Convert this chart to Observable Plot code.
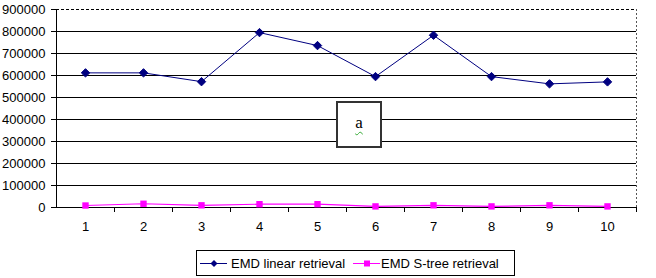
<!DOCTYPE html>
<html><head><meta charset="utf-8">
<script src="https://cdn.jsdelivr.net/npm/d3@7"></script>
<script src="https://cdn.jsdelivr.net/npm/@observablehq/plot@0.6"></script>
<style>
body{margin:0;background:#fff;font-family:"Liberation Sans",Arial,sans-serif;}
#wrap{position:relative;width:656px;height:278px;}
#legend{position:absolute;left:196px;top:250px;width:319px;height:26px;border:1px solid #000;box-sizing:border-box;}
#legend svg{position:absolute;left:0;top:0;}
#tbox{position:absolute;left:336px;top:101px;width:46px;height:47px;border:2px solid #333;box-sizing:border-box;background:#fff;
 font-family:"Liberation Serif","Times New Roman",serif;font-size:17px;text-align:center;line-height:40px;}
#tbox span{text-decoration:underline wavy #3a3;text-underline-offset:3px;text-decoration-thickness:1px;}
</style></head>
<body><div id="wrap"></div>
<script>
const categories = [1,2,3,4,5,6,7,8,9,10];
const linearRetrieval = [612000,612000,572000,795000,736000,595000,783000,595000,562000,571000];
const streeRetrieval = [9000,17000,10000,15000,15000,5000,10000,5000,10000,5000];
const seriesNames = ["EMD linear retrieval","EMD S-tree retrieval"];
const yTicks = [0,100000,200000,300000,400000,500000,600000,700000,800000,900000];

const linData = categories.map((c,i)=>({x:c,y:linearRetrieval[i]}));
const stData = categories.map((c,i)=>({x:c,y:streeRetrieval[i]}));

const plot = Plot.plot({
  width:656, height:278,
  marginLeft:56, marginRight:20, marginTop:9, marginBottom:71,
  style:{fontFamily:'"Liberation Sans",Arial,sans-serif',fontSize:"13px",color:"#000",background:"transparent"},
  x:{type:"linear",domain:[0.5,10.5]},
  y:{domain:[0,900000]},
  marks:[
    Plot.ruleY(yTicks.slice(1,-1),{stroke:"#000",strokeWidth:1}),
    Plot.ruleY([900000],{stroke:"#000",strokeDasharray:"3,2",strokeWidth:1}),
    Plot.ruleX([10.5],{stroke:"#555",strokeDasharray:"2,2",strokeWidth:1}),
    Plot.ruleX([0.5],{stroke:"#000",strokeWidth:1}),
    Plot.ruleY([0],{stroke:"#000",strokeWidth:1}),
    Plot.axisY({ticks:yTicks,tickSize:5,tickPadding:6,tickFormat:d=>String(d),label:null,stroke:"#000",fill:"#000",strokeOpacity:1}),
    Plot.axisX({ticks:categories,tickSize:0,tickPadding:14,tickFormat:d=>String(d),label:null,fill:"#000"}),
    Plot.axisX({ticks:categories.map(c=>c+0.5),tickSize:5,tickFormat:()=>"",label:null,stroke:"#000",strokeOpacity:1}),
    Plot.line(linData,{x:"x",y:"y",stroke:"#000080",strokeWidth:1}),
    Plot.dot(linData,{x:"x",y:"y",symbol:"diamond2",r:3.8,fill:"#000080",stroke:"#000080",strokeWidth:1}),
    Plot.line(stData,{x:"x",y:"y",stroke:"#FF00FF",strokeWidth:1.2}),
    Plot.dot(stData,{x:"x",y:"y",symbol:"square",r:3.6,fill:"#FF00FF",stroke:"none"})
  ]
});
const wrap = document.getElementById("wrap");
wrap.appendChild(plot);

const tb = document.createElement("div");
tb.id="tbox"; tb.innerHTML="<span>a</span>";
wrap.appendChild(tb);

const lg = document.createElement("div"); lg.id="legend";
const ns="http://www.w3.org/2000/svg";
const s = document.createElementNS(ns,"svg");
s.setAttribute("width",319); s.setAttribute("height",26);
const items=[{x0:3,color:"#000080",tx:34},{x0:156,color:"#FF00FF",tx:184}];
items.forEach((it,i)=>{
  const l=document.createElementNS(ns,"line");
  l.setAttribute("x1",it.x0);l.setAttribute("x2",it.x0+27);l.setAttribute("y1",12.5);l.setAttribute("y2",12.5);
  l.setAttribute("stroke",it.color);l.setAttribute("stroke-width",1);s.appendChild(l);
  const p=document.createElementNS(ns,"path");
  if(i===0){ p.setAttribute("d","M0,-3.5L3.5,0L0,3.5L-3.5,0Z"); }
  else { p.setAttribute("d","M-3,-3H3V3H-3Z"); }
  p.setAttribute("transform",`translate(${it.x0+14},12.5)`);p.setAttribute("fill",it.color);s.appendChild(p);
  const t=document.createElementNS(ns,"text");
  t.setAttribute("x",it.tx);t.setAttribute("y",17);t.setAttribute("font-size",13);
  t.setAttribute("font-family",'"Liberation Sans",Arial,sans-serif');t.textContent=seriesNames[i];s.appendChild(t);
});
lg.appendChild(s);
wrap.appendChild(lg);
</script>
</body></html>
